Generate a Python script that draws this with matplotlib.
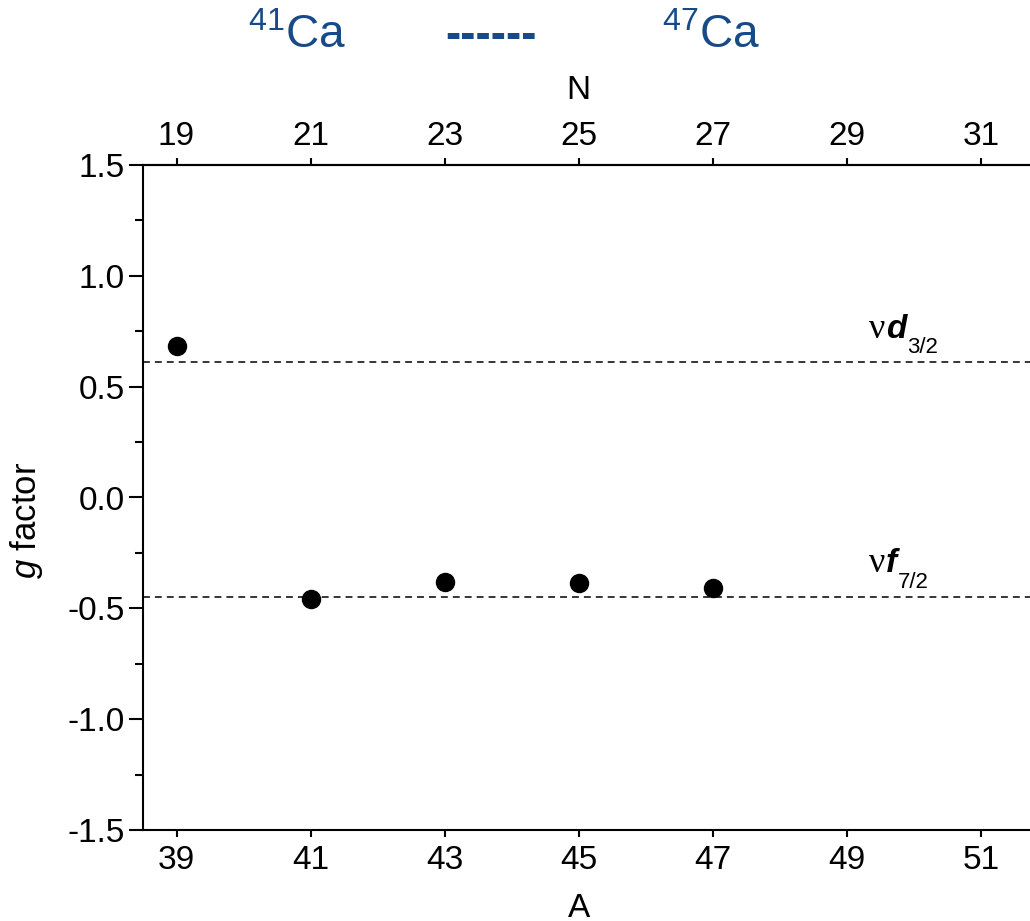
import matplotlib
matplotlib.use('Agg')
import matplotlib.pyplot as plt
from matplotlib.ticker import MultipleLocator

plt.rcParams['font.family'] = ['Liberation Sans', 'DejaVu Sans']
plt.rcParams['mathtext.fontset'] = 'custom'
plt.rcParams['mathtext.rm'] = 'Liberation Sans'
plt.rcParams['mathtext.it'] = 'Liberation Sans:italic'
plt.rcParams['axes.unicode_minus'] = False

# measured g factors of the Ca isotopes
mass_number = [39, 41, 43, 45, 47]
g_factor = [0.682, -0.460, -0.381, -0.385, -0.407]

# single-particle values for the neutron orbitals
orbital_letter = ['d', 'f']
orbital_j = ['3/2', '7/2']
orbital_g = [0.611, -0.448]

a_ticks = [39, 41, 43, 45, 47, 49, 51]
n_ticks = [19, 21, 23, 25, 27, 29, 31]
y_ticks = [-1.5, -1.0, -0.5, 0.0, 0.5, 1.0, 1.5]

isotope_first = '41'
isotope_last = '47'

BLUE = '#174a86'
FS = 24

fig = plt.figure(figsize=(10.3, 9.21), dpi=100)
# the frame runs past the right edge of the canvas
ax = fig.add_axes([143 / 1030, 91 / 921, 14 * 67.08 / 1030, 665 / 921])

ax.plot(mass_number, g_factor, 'o', color='black', ms=13, zorder=3)

for letter, j, g in zip(orbital_letter, orbital_j, orbital_g):
    ax.axhline(g, color='black', lw=1.1, ls=(0, (4.5, 3.3)), zorder=2)
    nu = ax.text(49.57, g + 0.11, '\u03bd', family='Liberation Serif',
                 fontsize=FS + 2, ha='right', va='baseline')
    orb = ax.text(49.57, g + 0.11, letter, fontsize=FS, style='italic',
                  weight='bold', ha='left', va='baseline')
    ax.annotate(j, xy=(1, 0), xycoords=orb, xytext=(0.5, -6),
                textcoords='offset points', fontsize=16, ha='left', va='baseline')

ax.set_xlim(38.5, 52.5)
ax.set_ylim(-1.5, 1.5)
ax.set_xticks(a_ticks)
ax.set_yticks(y_ticks)
ax.set_yticklabels([f'{v:.1f}' for v in y_ticks])
ax.yaxis.set_minor_locator(MultipleLocator(0.25))

for side in ['left', 'bottom', 'top']:
    ax.spines[side].set_linewidth(1.5)
ax.spines['right'].set_visible(False)

ax.tick_params(axis='x', which='major', length=5, width=1.5, labelsize=FS, pad=6)
ax.tick_params(axis='y', which='major', length=10, width=1.5, labelsize=FS, pad=3)
ax.tick_params(axis='y', which='minor', length=6, width=1.5)

ax.set_xlabel('A', fontsize=FS)
ax.xaxis.set_label_coords(0.464, -0.094)
ax.set_ylabel(r'$\mathit{g}$ factor', fontsize=FS + 1)
ax.yaxis.set_label_coords(-0.104, 0.465)

# neutron number on top: N = A - 20 for calcium
secax = ax.secondary_xaxis('top', functions=(lambda a: a - 20, lambda n: n + 20))
secax.set_xticks(n_ticks)
secax.spines['top'].set_linewidth(1.5)
secax.tick_params(length=5, width=1.5, labelsize=FS, pad=4)
ax.text(0.464, 1.089, 'N', transform=ax.transAxes, fontsize=FS,
        ha='center', va='bottom')

# isotope chain header
fig.text(248 / 1030, 1 - 48 / 921, r'$^{%s}$Ca' % isotope_first, color=BLUE,
         fontsize=33, ha='left', va='baseline')
fig.text(445 / 1030, 1 - 48 / 921, '------', color=BLUE, fontsize=33,
         fontweight='bold', ha='left', va='baseline')
fig.text(662 / 1030, 1 - 48 / 921, r'$^{%s}$Ca' % isotope_last, color=BLUE,
         fontsize=33, ha='left', va='baseline')

fig.savefig('out.png', dpi=100)
